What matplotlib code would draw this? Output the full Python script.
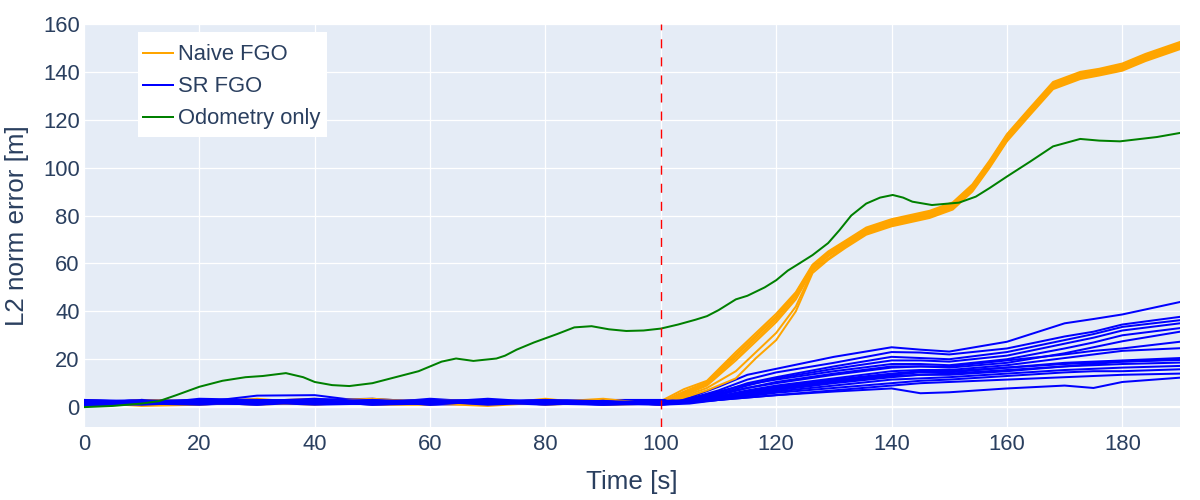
import matplotlib
matplotlib.use("Agg")
import matplotlib.pyplot as plt
from matplotlib.patches import Rectangle

# time stamps [s]
t_naive = [0, 10, 20, 30, 40, 50, 60, 70, 80, 90,
           100, 104, 108, 113, 116.5, 120, 123.4, 126.3, 129, 132, 135.6, 140,
           146.6, 150.6, 154, 157, 160, 164, 168, 172.7, 176, 180, 184, 190]
t_sr = [0, 10, 20, 30, 40, 50, 60, 70, 80, 90,
        100, 105, 110, 115, 120, 130, 140, 145, 150, 160, 170, 175, 180, 190]
t_odom = [0, 5, 10, 13, 16, 20, 24, 28, 31, 35, 38, 40, 43, 46, 50, 54, 58, 60, 62,
          64.5, 67.5, 71.5, 73, 75, 78, 82, 85, 88, 91, 94, 97, 100, 103, 106, 108,
          110, 113, 115, 118, 120, 122, 124, 126.3, 129, 131, 133, 135.6, 138, 140.2,
          142, 143.6, 147, 151.7, 154.6, 157, 160, 164, 168, 172.7, 176, 179.6, 186, 190]

# Naive FGO runs (L2 error [m])
naive_runs = [
    [1.5, 1.0, 2.5, 3.0, 2.0, 2.5, 1.5, 1.0, 2.5, 2.0,
     2.5, 7.5, 11.0, 23.0, 31.0, 39.0, 48.0, 59.5, 65.0, 69.5, 75.0, 78.5,
     82.0, 85.5, 93.0, 103.0, 114.0, 125.0, 135.8, 140.0, 141.3, 143.5, 147.5, 152.5],
    [0.5, 2.0, 1.5, 2.0, 3.0, 1.5, 2.5, 2.0, 1.5, 3.0,
     2.0, 6.5, 10.5, 22.0, 30.0, 38.0, 47.5, 59.0, 64.5, 69.0, 74.5, 78.0,
     81.5, 85.0, 92.5, 102.5, 113.5, 124.5, 135.3, 139.5, 140.8, 143.0, 147.0, 152.0],
    [2.5, 1.5, 3.0, 1.5, 2.5, 3.5, 2.0, 1.5, 3.0, 1.5,
     1.5, 6.0, 10.0, 21.5, 29.5, 37.5, 47.0, 58.5, 64.0, 68.5, 74.0, 77.5,
     81.0, 84.5, 92.0, 102.0, 113.0, 124.0, 134.8, 139.0, 140.4, 142.5, 146.5, 151.5],
    [1.0, 2.5, 2.0, 3.5, 1.5, 2.0, 3.0, 2.5, 2.0, 2.5,
     1.0, 5.5, 9.5, 20.5, 28.5, 36.5, 46.0, 58.0, 63.5, 68.0, 73.5, 77.0,
     80.5, 84.0, 91.5, 101.5, 112.5, 123.5, 134.3, 138.5, 140.0, 142.0, 146.0, 151.0],
    [2.0, 0.5, 1.0, 2.5, 3.5, 1.0, 1.0, 3.0, 1.0, 2.0,
     2.0, 5.0, 9.0, 19.5, 27.5, 35.5, 45.0, 57.5, 63.0, 67.5, 73.0, 76.5,
     80.0, 83.5, 91.0, 101.0, 112.0, 123.0, 133.8, 138.0, 139.5, 141.5, 145.5, 150.5],
    [3.0, 1.5, 2.0, 1.0, 2.0, 3.0, 2.5, 1.0, 3.5, 1.0,
     1.5, 4.5, 8.0, 15.0, 23.0, 31.0, 42.0, 57.0, 62.0, 67.0, 72.5, 76.0,
     79.5, 83.0, 90.5, 100.5, 111.5, 122.5, 133.3, 137.5, 139.0, 141.0, 145.0, 150.0],
    [1.0, 3.0, 2.5, 2.0, 1.0, 2.5, 1.5, 0.5, 2.0, 3.5,
     1.0, 4.0, 7.0, 12.0, 20.5, 28.0, 40.0, 56.0, 61.5, 66.5, 72.0, 75.5,
     79.0, 82.5, 90.0, 100.0, 111.0, 122.0, 132.8, 137.0, 138.5, 140.5, 144.5, 149.5],
]

# SR FGO runs (L2 error [m])
sr_runs = [
    [2.0, 1.5, 3.0, 2.5, 2.0, 2.5, 1.5, 2.0, 3.0, 1.5,
     2.5, 4.0, 8.5, 13.5, 16.0, 21.0, 25.0, 24.0, 23.2, 27.3, 35.0, 36.8, 38.7, 43.9],
    [1.0, 2.5, 2.0, 4.8, 5.0, 2.0, 3.0, 1.5, 2.0, 2.5,
     2.0, 3.5, 7.0, 11.5, 14.5, 18.5, 23.0, 22.8, 22.0, 24.5, 29.5, 31.5, 34.5, 37.7],
    [3.0, 2.0, 1.0, 2.0, 3.0, 3.5, 2.0, 2.5, 1.5, 3.0,
     3.0, 3.0, 6.0, 10.0, 12.5, 17.0, 21.0, 20.5, 20.0, 23.0, 28.0, 30.5, 33.5, 36.3],
    [1.5, 3.0, 2.5, 1.5, 2.5, 1.5, 3.5, 2.0, 2.5, 1.0,
     1.5, 2.5, 5.5, 9.0, 12.0, 16.0, 19.5, 19.5, 19.0, 21.5, 26.5, 29.0, 32.0, 35.0],
    [2.5, 1.0, 3.5, 3.0, 1.5, 2.0, 2.5, 3.0, 1.0, 2.0,
     2.0, 3.5, 6.5, 9.5, 11.5, 15.0, 18.0, 18.0, 17.5, 20.0, 24.5, 27.0, 30.0, 33.0],
    [0.5, 2.0, 1.5, 2.5, 3.5, 2.5, 1.0, 1.5, 3.0, 2.5,
     1.0, 2.5, 5.0, 8.0, 10.5, 14.0, 17.0, 17.0, 16.5, 18.5, 22.5, 25.0, 27.5, 31.5],
    [2.0, 3.0, 2.0, 1.0, 2.0, 3.0, 2.0, 1.0, 2.0, 3.0,
     2.5, 3.0, 5.5, 8.0, 10.0, 13.5, 16.5, 17.0, 17.0, 19.5, 22.0, 23.5, 24.5, 27.3],
    [1.0, 1.5, 2.5, 2.0, 1.0, 1.5, 2.5, 2.0, 3.0, 1.5,
     1.5, 2.0, 4.5, 7.0, 9.0, 12.0, 15.0, 15.5, 15.5, 17.5, 20.5, 22.0, 23.5, 24.6],
    [2.5, 2.0, 1.5, 3.0, 2.5, 1.0, 2.0, 3.5, 2.0, 1.0,
     2.0, 2.5, 4.5, 6.5, 8.5, 11.5, 14.0, 15.0, 15.0, 16.5, 18.5, 19.0, 19.5, 20.5],
    [1.5, 1.0, 2.0, 1.5, 2.0, 2.5, 1.5, 2.0, 1.0, 2.5,
     1.0, 2.0, 4.0, 6.0, 7.5, 10.5, 13.0, 13.5, 13.5, 15.0, 17.0, 18.0, 19.0, 19.7],
    [3.0, 2.5, 3.0, 2.0, 1.5, 2.0, 3.0, 1.5, 2.5, 2.0,
     2.5, 3.0, 4.0, 5.5, 7.0, 10.0, 12.5, 13.5, 14.0, 15.5, 17.0, 17.5, 18.0, 18.6],
    [0.5, 1.5, 1.0, 2.5, 2.0, 3.0, 1.0, 2.5, 1.5, 2.0,
     1.5, 2.0, 3.5, 5.0, 6.5, 9.0, 11.5, 12.0, 12.5, 14.0, 15.5, 16.0, 16.5, 17.2],
    [2.0, 2.5, 2.0, 1.0, 3.0, 1.5, 2.5, 1.0, 2.0, 1.5,
     1.0, 1.5, 3.0, 4.5, 6.0, 8.0, 10.0, 11.0, 11.5, 13.0, 14.5, 15.0, 15.0, 15.8],
    [1.0, 2.0, 3.0, 2.0, 1.5, 2.0, 2.0, 3.0, 1.5, 1.0,
     1.5, 2.0, 3.0, 4.0, 5.0, 7.0, 9.0, 10.0, 10.5, 11.5, 12.5, 13.0, 13.5, 14.0],
    [2.5, 1.5, 2.5, 3.0, 2.5, 1.0, 1.5, 2.0, 2.5, 2.0,
     2.0, 2.0, 3.0, 4.0, 5.0, 6.5, 7.8, 5.8, 6.2, 7.8, 9.0, 8.0, 10.5, 12.3],
    [1.5, 3.0, 1.5, 1.5, 2.0, 2.5, 3.0, 2.5, 3.0, 2.5,
     2.0, 2.5, 4.0, 6.0, 8.0, 11.0, 13.5, 14.5, 14.5, 16.5, 18.0, 18.5, 19.0, 20.0],
]

# odometry only
odom = [0.0, 0.5, 1.5, 2.5, 5.0, 8.5, 11.0, 12.5, 13.0, 14.2, 12.5, 10.5, 9.2, 8.8, 10.0,
        12.5, 15.0, 17.0, 19.0, 20.3, 19.3, 20.3, 21.5, 24.0, 27.0, 30.5, 33.3, 33.8,
        32.5, 31.8, 32.0, 32.8, 34.5, 36.5, 38.0, 40.5, 45.0, 46.5, 50.0, 53.0, 57.0,
        60.0, 63.5, 68.5, 74.0, 80.0, 85.0, 87.5, 88.6, 87.5, 85.8, 84.4, 85.4, 87.9,
        91.5, 96.3, 102.5, 108.9, 112.0, 111.3, 111.0, 112.8, 114.5]

x_ticks = [0, 20, 40, 60, 80, 100, 120, 140, 160, 180]
y_ticks = [0, 20, 40, 60, 80, 100, 120, 140, 160]
switch_time = 100

font_color = "#2a3f5f"
plt.rcParams["font.family"] = ["Liberation Sans", "DejaVu Sans"]

fig = plt.figure(figsize=(12, 5), dpi=100)
ax = fig.add_axes([84 / 1200, 73 / 500, 1096 / 1200, 403 / 500])
ax.set_facecolor("#E5ECF6")

lw = 1.44  # 2 px
for i in range(max(len(naive_runs), len(sr_runs))):
    if i < len(sr_runs):
        ax.plot(t_sr, sr_runs[i], color="blue", lw=lw,
                label="SR FGO" if i == 0 else None, zorder=3)
    if i < len(naive_runs):
        ax.plot(t_naive, naive_runs[i], color="orange", lw=lw,
                label="Naive FGO" if i == 0 else None, zorder=3)
ax.plot(t_odom, odom, color="green", lw=lw, label="Odometry only", zorder=4)

ax.axvline(switch_time, color="#ff0000", lw=1.0, linestyle=(0, (6.5, 6.5)), zorder=5)

ax.set_xlim(0, 190)
ax.set_ylim(-8.3, 160)
ax.set_xticks(x_ticks)
ax.set_yticks(y_ticks)
ax.grid(True, color="white", lw=0.9, zorder=0)
ax.set_axisbelow(True)
ax.axhline(0, color="white", lw=1.6, zorder=1)
for s in ax.spines.values():
    s.set_visible(False)
ax.tick_params(length=0, labelsize=15.8, labelcolor=font_color)
ax.tick_params(axis="x", pad=5)
ax.tick_params(axis="y", pad=3)

ax.set_xlabel("Time [s]", fontsize=18.7, color=font_color, labelpad=11)
ax.set_ylabel("L2 norm error [m]", fontsize=18.7, color=font_color, labelpad=10)

# legend: white box behind, entries without frame
ax.add_patch(Rectangle((54 / 1096, 290 / 403), 189 / 1096, 105 / 403,
                       transform=ax.transAxes, facecolor="white", edgecolor="none",
                       zorder=9))
handles, labels = ax.get_legend_handles_labels()
order = [labels.index("Naive FGO"), labels.index("SR FGO"), labels.index("Odometry only")]
leg = ax.legend([handles[k] for k in order], [labels[k] for k in order],
                loc="upper left", bbox_to_anchor=(59 / 1096, 382.5 / 403),
                borderaxespad=0, borderpad=0, fontsize=15.8, frameon=False,
                handlelength=1.36, handletextpad=0.24, labelspacing=0.5)
for txt in leg.get_texts():
    txt.set_color(font_color)
leg.set_zorder(10)

fig.savefig("out.png", dpi=100, facecolor="white")
